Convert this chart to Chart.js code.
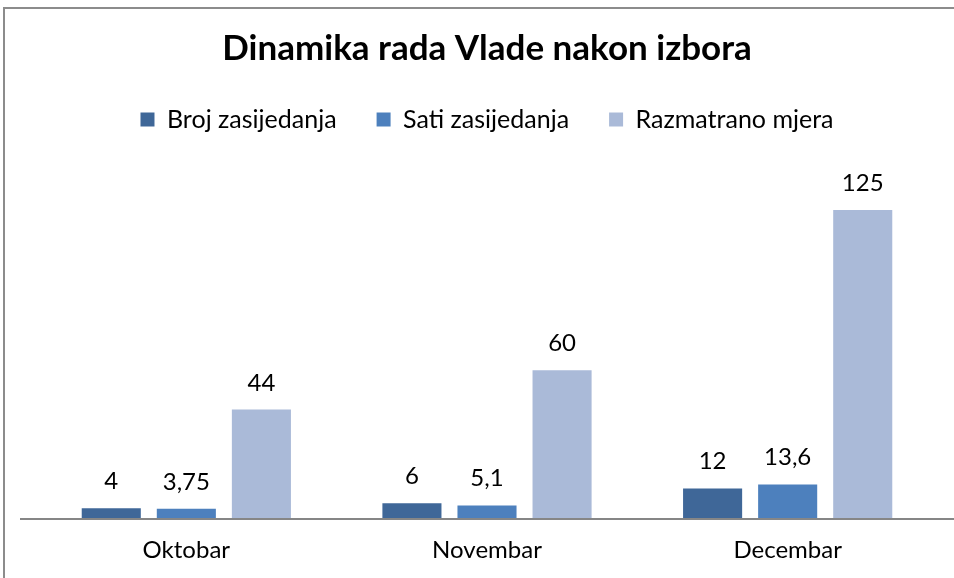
<!DOCTYPE html>
<html>
<head>
<meta charset="utf-8">
<script src="https://cdn.jsdelivr.net/npm/chart.js@4"></script>
<style>
  html, body { margin: 0; padding: 0; background: #fff; }
  #wrap { width: 954px; height: 578px; }
</style>
</head>
<body>
<div id="wrap"><canvas id="vlada-chart" width="954" height="578"></canvas></div>
<script>
const months = ['Oktobar', 'Novembar', 'Decembar'];
const brojZasijedanja = [4, 6, 12];
const satiZasijedanja = [3.75, 5.1, 13.6];
const razmatranoMjera = [44, 60, 125];

const fontName = "Lato, 'Open Sans', sans-serif";

// frame + long axis line like the original office chart
const framePlugin = {
    id: "frame",
    beforeInit: (chart) => {
        // extra room under the legend
        const fitLegend = chart.legend.fit;
        chart.legend.fit = function () {
            fitLegend.bind(chart.legend)();
            this.height += 31;
        };
    },
    beforeDraw: (chart) => {
        const ctx = chart.ctx;
        ctx.save();
        ctx.strokeStyle = "#8c8c8c";
        ctx.lineWidth = 2;
        ctx.beginPath();
        ctx.moveTo(4, chart.height);
        ctx.lineTo(4, 8);
        ctx.lineTo(chart.width, 8);
        ctx.stroke();
        ctx.restore();
    },
    afterDatasetsDraw: (chart) => {
        const ctx = chart.ctx;
        const y0 = chart.scales.y.getPixelForValue(0);
        ctx.save();
        ctx.strokeStyle = "#868686";
        ctx.lineWidth = 2;
        ctx.beginPath();
        ctx.moveTo(20, y0 + 1);
        ctx.lineTo(chart.width, y0 + 1);
        ctx.stroke();
        ctx.restore();
    }
};

const valueLabels = {
    id: "valueLabels",
    afterDatasetsDraw: (chart) => {
        const ctx = chart.ctx;
        ctx.save();
        ctx.font = "24px " + fontName;
        ctx.fillStyle = "#000";
        ctx.textAlign = "center";
        ctx.textBaseline = "alphabetic";
        chart.data.datasets.forEach((ds, i) => {
            chart.getDatasetMeta(i).data.forEach((bar, j) => {
                const txt = String(ds.data[j]).replace(".", ",");
                ctx.fillText(txt, bar.x, bar.y - 19);
            });
        });
        ctx.restore();
    }
};

let vladaConf = {
    type: "bar",
    data: {
        labels: months,
        datasets: [{
            label: "Broj zasijedanja",
            data: brojZasijedanja,
            backgroundColor: "#3f6798"
        }, {
            label: "Sati zasijedanja",
            data: satiZasijedanja,
            backgroundColor: "#4d80bd"
        }, {
            label: "Razmatrano mjera",
            data: razmatranoMjera,
            backgroundColor: "#aabad8"
        }]
    },
    options: {
        responsive: false,
        animation: false,
        categoryPercentage: 0.749,
        barPercentage: 0.787,
        layout: {
            padding: { left: 36, right: 16, top: 0, bottom: 0 }
        },
        plugins: {
            title: {
                display: true,
                text: "Dinamika rada Vlade nakon izbora",
                color: "#000",
                font: { family: fontName, size: 35, weight: "bold" },
                padding: { top: 28, bottom: -3 }
            },
            legend: {
                position: "top",
                labels: {
                    color: "#000",
                    font: { family: fontName, size: 25 },
                    boxWidth: 14,
                    boxHeight: 14,
                    padding: 40
                }
            },
            tooltip: { enabled: false }
        },
        scales: {
            x: {
                grid: { display: false, drawTicks: false },
                border: { display: false },
                ticks: {
                    color: "#000",
                    font: { family: fontName, size: 24 },
                    padding: 18
                },
                afterFit: (scale) => {
                    scale.height = 60;
                }
            },
            y: {
                display: false,
                min: 0,
                max: 140
            }
        }
    },
    plugins: [framePlugin, valueLabels]
};

var vladaChart = new Chart(document.getElementById("vlada-chart"), vladaConf);
</script>
</body>
</html>
